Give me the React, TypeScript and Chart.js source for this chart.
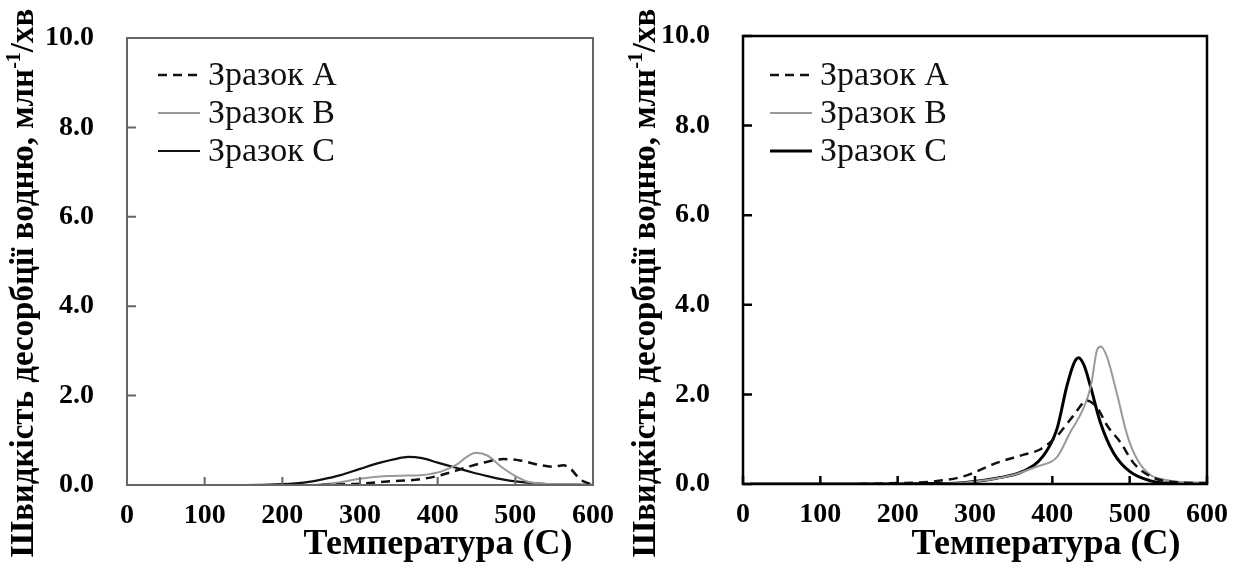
import React, { useEffect, useRef } from "react";
import { Chart, registerables } from "chart.js";
Chart.register(...registerables);

// ---------- shared labels ----------
const xTickValues = [0, 100, 200, 300, 400, 500, 600];
const yTickValues = [0, 2, 4, 6, 8, 10];
const seriesLabels = ["Зразок A", "Зразок B", "Зразок C"];
const xTitle = "Температура (С)";
const yTitleMain = "Швидкість десорбції водню, млн";
const yTitleSup = "-1";
const yTitleEnd = "/хв";

// ---------- left panel data ----------
const leftA_T = [250, 300, 335, 378, 404, 438, 464, 485, 506, 528, 549, 562, 570, 584, 597];
const leftA_V = [0.0, 0.03, 0.08, 0.13, 0.22, 0.4, 0.52, 0.58, 0.55, 0.46, 0.41, 0.44, 0.38, 0.12, 0.02];

const leftB_T = [240, 270, 300, 335, 360, 378, 404, 425, 435, 449, 464, 481, 498, 515, 535, 560, 600];
const leftB_V = [0.0, 0.05, 0.14, 0.2, 0.21, 0.22, 0.3, 0.46, 0.6, 0.72, 0.66, 0.42, 0.22, 0.08, 0.03, 0.02, 0.01];

const leftC_T = [22, 100, 150, 200, 230, 250, 275, 300, 326, 345, 362, 380, 400, 425, 445, 464, 485, 506, 541, 570, 600];
const leftC_V = [0.0, 0.0, 0.0, 0.02, 0.06, 0.12, 0.22, 0.36, 0.5, 0.58, 0.63, 0.6, 0.5, 0.38, 0.28, 0.2, 0.12, 0.07, 0.02, 0.01, 0.0];

// ---------- right panel data ----------
const rightA_T = [150, 199, 242, 285, 328, 362, 384, 406, 427, 445, 458, 471, 488, 505, 527, 553, 600];
const rightA_V = [0.0, 0.02, 0.05, 0.17, 0.47, 0.65, 0.77, 1.07, 1.52, 1.86, 1.7, 1.3, 0.93, 0.47, 0.17, 0.05, 0.02];

const rightB_T = [250, 285, 320, 349, 380, 406, 423, 440, 450, 458, 463, 471, 484, 497, 510, 527, 544, 570, 600];
const rightB_V = [0.0, 0.03, 0.1, 0.2, 0.39, 0.6, 1.15, 1.68, 2.2, 3.0, 3.07, 2.82, 1.98, 1.08, 0.54, 0.2, 0.1, 0.04, 0.03];

const rightC_T = [10, 100, 200, 250, 285, 328, 362, 388, 406, 419, 428, 434, 441, 449, 462, 479, 500, 527, 550, 600];
const rightC_V = [0.0, 0.0, 0.0, 0.01, 0.03, 0.13, 0.28, 0.62, 1.23, 2.2, 2.7, 2.82, 2.65, 2.2, 1.38, 0.7, 0.28, 0.07, 0.02, 0.01];

const pts = (t: number[], v: number[]) => t.map((x, i) => ({ x, y: v[i] }));

const GRAY = "#9a9a9a";

const panelPlugin = {
  id: "panel",
  afterDraw(chart: any) {
    const o = chart.options.plugins.panel;
    const { ctx, chartArea: a } = chart;
    const xs = chart.scales.x;
    const ys = chart.scales.y;
    ctx.save();
    // tick marks (inside)
    ctx.strokeStyle = o.frameColor;
    ctx.lineWidth = o.tickWidth;
    ctx.beginPath();
    xTickValues.forEach((v) => {
      const px = xs.getPixelForValue(v);
      ctx.moveTo(px, a.bottom);
      ctx.lineTo(px, a.bottom - 8);
    });
    yTickValues.forEach((v) => {
      const py = ys.getPixelForValue(v);
      ctx.moveTo(a.left, py);
      ctx.lineTo(a.left + 9, py);
    });
    ctx.stroke();
    // frame
    ctx.lineWidth = o.frameWidth;
    ctx.strokeRect(a.left, a.top, a.right - a.left, a.bottom - a.top);

    // legend
    ctx.font = '34px "Liberation Serif"';
    ctx.textBaseline = "middle";
    ctx.textAlign = "left";
    chart.data.datasets.forEach((ds: any, i: number) => {
      const y = a.top + o.legendTop + i * o.legendGap;
      ctx.save();
      ctx.strokeStyle = ds.borderColor;
      ctx.lineWidth = ds.borderWidth;
      ctx.setLineDash(ds.borderDash || []);
      ctx.beginPath();
      ctx.moveTo(a.left + o.legendX, y);
      ctx.lineTo(a.left + o.legendX + 42, y);
      ctx.stroke();
      ctx.restore();
      ctx.fillStyle = "#111";
      ctx.fillText(ds.label, a.left + o.legendX + 50, y + 1);
    });

    // x title
    ctx.fillStyle = "#000";
    ctx.font = 'bold 36px "Liberation Serif"';
    ctx.textAlign = "center";
    ctx.textBaseline = "alphabetic";
    ctx.fillText(xTitle, o.xTitleX, o.xTitleY);

    // y title (rotated)
    const big = 'bold 33px "Liberation Serif"';
    const small = 'bold 20px "Liberation Serif"';
    ctx.font = big;
    const w1 = ctx.measureText(yTitleMain).width;
    const w3 = ctx.measureText(yTitleEnd).width;
    ctx.font = small;
    const w2 = ctx.measureText(yTitleSup).width;
    const total = w1 + w2 + w3;
    ctx.translate(o.yTitleX, o.yTitleY);
    ctx.rotate(-Math.PI / 2);
    ctx.textAlign = "left";
    let cx = -total / 2;
    ctx.font = big;
    ctx.fillText(yTitleMain, cx, 0);
    cx += w1;
    ctx.font = small;
    ctx.fillText(yTitleSup, cx, -13);
    cx += w2;
    ctx.font = big;
    ctx.fillText(yTitleEnd, cx, 0);
    ctx.restore();
  },
};

type Frame = {
  top: number;
  right: number;
  left: number;
  xHeight: number;
  frameColor: string;
  frameWidth: number;
  tickWidth: number;
  legendX: number;
  legendTop: number;
  legendGap: number;
  xTitleX: number;
  xTitleY: number;
  yTitleX: number;
  yTitleY: number;
};

const zeroPad = (s: any) => {
  s.paddingTop = 0;
  s.paddingBottom = 0;
  s.paddingLeft = 0;
  s.paddingRight = 0;
};

function Panel({ datasets, frame }: { datasets: any[]; frame: Frame }) {
  const ref = useRef<HTMLCanvasElement>(null);
  useEffect(() => {
    const tickFont = { family: '"Liberation Serif"', size: 28, weight: "bold" as const };
    const chart = new Chart(ref.current as HTMLCanvasElement, {
      type: "line",
      data: { datasets },
      options: {
        animation: false,
        responsive: false,
        devicePixelRatio: 1,
        layout: { padding: { top: frame.top, right: frame.right, left: 0, bottom: 0 } },
        elements: { point: { radius: 0 }, line: { cubicInterpolationMode: "monotone" } },
        plugins: {
          legend: { display: false },
          tooltip: { enabled: false },
          // @ts-ignore
          panel: frame,
        },
        scales: {
          x: {
            type: "linear",
            min: 0,
            max: 600,
            afterBuildTicks: (s: any) => {
              s.ticks = xTickValues.map((v) => ({ value: v }));
            },
            grid: { display: false, drawTicks: false },
            border: { display: false },
            ticks: { font: tickFont, color: "#000", padding: 14, maxRotation: 0, autoSkip: false },
            afterFit: (s: any) => {
              s.height = frame.xHeight;
              zeroPad(s);
            },
          },
          y: {
            type: "linear",
            min: 0,
            max: 10,
            afterBuildTicks: (s: any) => {
              s.ticks = yTickValues.map((v) => ({ value: v }));
            },
            grid: { display: false, drawTicks: false },
            border: { display: false },
            ticks: {
              font: tickFont,
              color: "#000",
              padding: 33,
              callback: (v: any) => Number(v).toFixed(1),
            },
            afterFit: (s: any) => {
              s.width = frame.left;
              zeroPad(s);
            },
          },
        },
      },
      plugins: [panelPlugin],
    });
    return () => chart.destroy();
  }, []);
  return <canvas ref={ref} width={620} height={571} style={{ display: "block" }} />;
}

const leftDatasets = [
  { label: seriesLabels[0], data: pts(leftA_T, leftA_V), borderColor: "#111", borderWidth: 2.5, borderDash: [9, 6] },
  { label: seriesLabels[1], data: pts(leftB_T, leftB_V), borderColor: GRAY, borderWidth: 2 },
  { label: seriesLabels[2], data: pts(leftC_T, leftC_V), borderColor: "#111", borderWidth: 2.2 },
];

const rightDatasets = [
  { label: seriesLabels[0], data: pts(rightA_T, rightA_V), borderColor: "#111", borderWidth: 2.5, borderDash: [9, 6] },
  { label: seriesLabels[1], data: pts(rightB_T, rightB_V), borderColor: GRAY, borderWidth: 2 },
  { label: seriesLabels[2], data: pts(rightC_T, rightC_V), borderColor: "#000", borderWidth: 3 },
];

const leftFrame: Frame = {
  top: 38, right: 27, left: 127, xHeight: 86,
  frameColor: "#666", frameWidth: 2, tickWidth: 2,
  legendX: 31, legendTop: 37, legendGap: 38,
  xTitleX: 438, xTitleY: 554, yTitleX: 33, yTitleY: 283,
};

const rightFrame: Frame = {
  top: 36, right: 33, left: 123, xHeight: 87,
  frameColor: "#000", frameWidth: 2.5, tickWidth: 2.5,
  legendX: 27, legendTop: 39, legendGap: 38,
  xTitleX: 426, xTitleY: 554, yTitleX: 35, yTitleY: 283,
};

export default function App() {
  return (
    <div style={{ position: "absolute", left: 0, top: 0, width: 1240, height: 571, background: "#fff", overflow: "hidden" }}>
      <div style={{ position: "absolute", left: 0, top: 0 }}>
        <Panel datasets={leftDatasets} frame={leftFrame} />
      </div>
      <div style={{ position: "absolute", left: 620, top: 0 }}>
        <Panel datasets={rightDatasets} frame={rightFrame} />
      </div>
    </div>
  );
}
